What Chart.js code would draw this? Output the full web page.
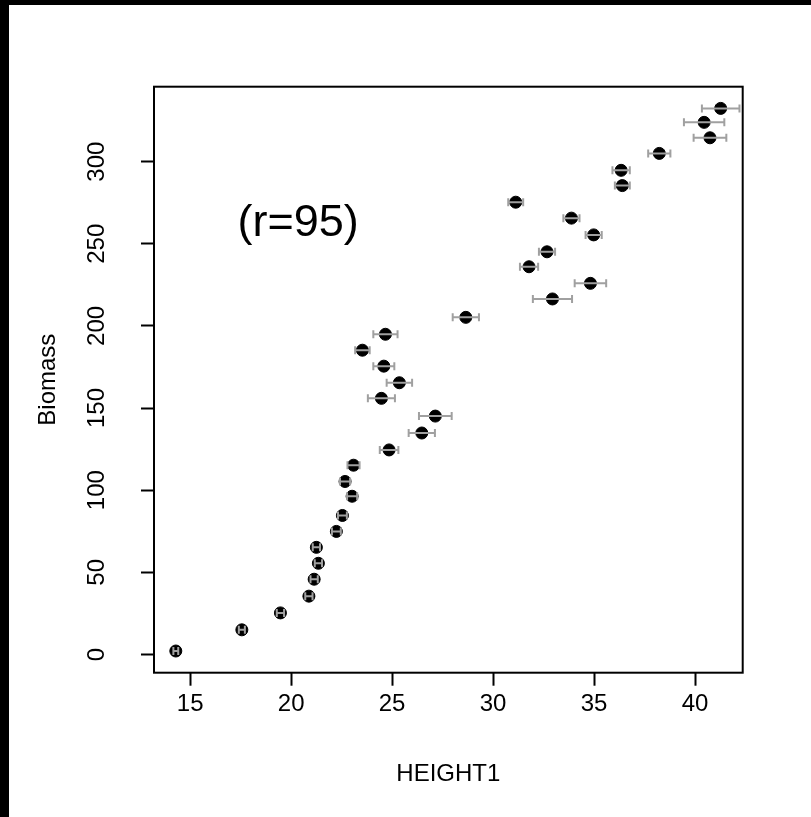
<!DOCTYPE html>
<html>
  <head>
    <title>Biomass vs HEIGHT1</title>
    <script src="https://cdn.jsdelivr.net/npm/chart.js"></script>
    <style>
      html, body { margin: 0; padding: 0; background: #000; }
      #wrap { position: absolute; left: 9px; top: 5px; width: 802px; height: 812px; background: #fff; }
    </style>
  </head>
  <body>
    <div id="wrap"><canvas id="scatter"></canvas></div>
    <script>
      // Values
      const height = [14.29, 17.56, 19.47, 20.88, 21.14, 21.35, 21.25, 22.24, 22.54, 23.02,
                      22.67, 23.09, 24.85, 26.47, 27.14, 24.47, 25.36, 24.59, 23.53, 24.67,
                      28.65, 32.94, 34.82, 31.78, 32.67, 34.98, 33.88, 31.12, 36.40, 36.34,
                      38.23, 40.74, 40.45, 41.27];
      const biomass = [2.1, 15.0, 25.3, 35.5, 45.8, 55.5, 65.2, 74.9, 84.6, 96.3,
                       105.3, 115.2, 124.5, 134.8, 145.1, 155.9, 165.4, 175.5, 185.2, 194.9,
                       205.2, 216.4, 225.9, 236.0, 245.1, 255.4, 265.6, 275.3, 285.4, 294.7,
                       305.0, 314.5, 323.9, 332.4];
      const heightErr = [0.12, 0.15, 0.18, 0.18, 0.18, 0.18, 0.18, 0.22, 0.22, 0.25,
                         0.25, 0.3, 0.46, 0.65, 0.81, 0.67, 0.63, 0.52, 0.36, 0.6,
                         0.65, 0.97, 0.78, 0.45, 0.4, 0.4, 0.4, 0.37, 0.37, 0.43,
                         0.55, 0.81, 1.0, 0.93];
      const xTicks = [15, 20, 25, 30, 35, 40];
      const yTicks = [0, 50, 100, 150, 200, 250, 300];
      const note = "(r=95)";

      const FONT = "'Liberation Sans', Arial, Helvetica, sans-serif";

      // grey horizontal error bars, drawn on top of the points like in R
      const errorBars = {
        id: "errorBars",
        afterDatasetsDraw(chart) {
          const { ctx, scales: { x, y } } = chart;
          ctx.save();
          ctx.strokeStyle = "#a0a0a0";
          ctx.lineWidth = 2;
          height.forEach((h, i) => {
            const py = y.getPixelForValue(biomass[i]);
            const x0 = x.getPixelForValue(h - heightErr[i]);
            const x1 = x.getPixelForValue(h + heightErr[i]);
            ctx.beginPath();
            ctx.moveTo(x0, py); ctx.lineTo(x1, py);
            ctx.moveTo(x0, py - 4); ctx.lineTo(x0, py + 4);
            ctx.moveTo(x1, py - 4); ctx.lineTo(x1, py + 4);
            ctx.stroke();
          });
          ctx.restore();
        },
        afterDraw(chart) {
          const { ctx, chartArea: a, scales: { x, y } } = chart;
          ctx.save();
          // box
          ctx.strokeStyle = "#000";
          ctx.lineWidth = 2;
          ctx.strokeRect(a.left, a.top, a.right - a.left, a.bottom - a.top);
          // rotated y tick labels
          ctx.fillStyle = "#000";
          ctx.font = "24px " + FONT;
          ctx.textAlign = "center";
          ctx.textBaseline = "alphabetic";
          yTicks.forEach(v => {
            ctx.save();
            ctx.translate(a.left - 50, y.getPixelForValue(v));
            ctx.rotate(-Math.PI / 2);
            ctx.fillText(String(v), 0, 0);
            ctx.restore();
          });
          // annotation
          ctx.font = "45px " + FONT;
          ctx.textBaseline = "middle";
          ctx.fillText(note, x.getPixelForValue(20.35), y.getPixelForValue(262));
          ctx.restore();
        }
      };

      new Chart(document.getElementById("scatter"), {
        type: "scatter",
        data: {
          datasets: [{
            data: height.map((h, i) => ({ x: h, y: biomass[i] })),
            backgroundColor: "#000",
            borderColor: "#000",
            pointRadius: 6,
            pointBorderWidth: 1
          }]
        },
        options: {
          responsive: true,
          maintainAspectRatio: false,
          animation: false,
          layout: { padding: { left: 0, top: 81.7, right: 68.3, bottom: 0 } },
          plugins: { legend: { display: false }, tooltip: { enabled: false } },
          scales: {
            x: {
              type: "linear",
              min: 13.21,
              max: 42.36,
              afterBuildTicks: s => { s.ticks = xTicks.map(v => ({ value: v })); },
              afterFit: s => { s.height = 144.3; },
              border: { display: false },
              grid: { drawOnChartArea: false, drawTicks: true, tickLength: 13, tickWidth: 2, tickColor: "#000" },
              ticks: { color: "#000", padding: 4, font: { family: FONT, size: 24 }, maxRotation: 0 },
              title: { display: true, text: "HEIGHT1", color: "#000", font: { family: FONT, size: 24 }, padding: { bottom: 28 } }
            },
            y: {
              type: "linear",
              min: -11.1,
              max: 345.6,
              afterBuildTicks: s => { s.ticks = yTicks.map(v => ({ value: v })); },
              afterFit: s => { s.width = 145; },
              border: { display: false },
              grid: { drawOnChartArea: false, drawTicks: true, tickLength: 13, tickWidth: 2, tickColor: "#000" },
              ticks: { display: false },
              title: { display: true, text: "Biomass", color: "#000", font: { family: FONT, size: 24 }, padding: { top: 25 } }
            }
          }
        },
        plugins: [errorBars]
      });
    </script>
  </body>
</html>
